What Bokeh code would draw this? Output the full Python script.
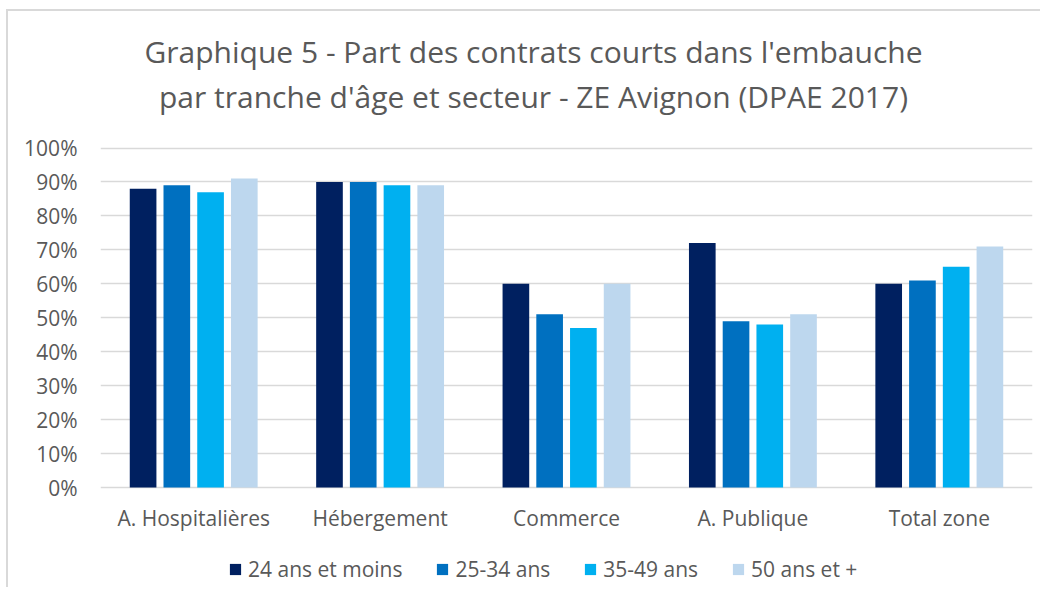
from bokeh.plotting import figure
from bokeh.models import (ColumnDataSource, FactorRange, Range1d, Legend, LegendItem,
                          PrintfTickFormatter, Label, FixedTicker)
from bokeh.core.properties import value
from bokeh.transform import dodge
from bokeh.embed import file_html
from bokeh.resources import INLINE

categories = ["A. Hospitalières", "Hébergement", "Commerce", "A. Publique", "Total zone"]
series_names = ["24 ans et moins", "25-34 ans", "35-49 ans", "50 ans et +"]
s_24_moins = [88, 90, 60, 72, 60]
s_25_34 = [89, 90, 51, 49, 61]
s_35_49 = [87, 89, 47, 48, 65]
s_50_plus = [91, 89, 60, 51, 71]
y_ticks = [0, 10, 20, 30, 40, 50, 60, 70, 80, 90, 100]
title_lines = ["Graphique 5 - Part des contrats courts dans l'embauche",
               "par tranche d'âge et secteur - ZE Avignon (DPAE 2017)"]

colors = ["#002060", "#0070C0", "#00B0F0", "#BDD7EE"]
FONT = "Open Sans"
TXT = "#595959"

H = 587
TOP_PX, BOT_PX = 147.5, 487.0          # pixel rows of 100% and 0%
PPU = (BOT_PX - TOP_PX) / 100.0         # pixels per percent
y_max = 100 + TOP_PX / PPU
y_min = -(H - BOT_PX) / PPU

source = ColumnDataSource(dict(cat=categories, s0=s_24_moins, s1=s_25_34, s2=s_35_49, s3=s_50_plus))

p = figure(width=1040, height=H, output_backend="svg", toolbar_location=None,
           x_range=FactorRange(*categories, range_padding=0), y_range=Range1d(y_min, y_max),
           min_border_left=100, min_border_right=8, min_border_top=0, min_border_bottom=0)
p.title.visible = False
p.outline_line_color = None
p.border_fill_color = None
p.background_fill_color = None
p.styles = {"background": "linear-gradient(#D9D9D9,#D9D9D9) 6px 9px / 2px 100% no-repeat, "
                          "linear-gradient(#D9D9D9,#D9D9D9) 6px 9px / 100% 2px no-repeat, white"}

step = 0.181
bw = 0.143
renderers = []
for i, col in enumerate(["s0", "s1", "s2", "s3"]):
    r = p.vbar(x=dodge("cat", (i - 1.5) * step, range=p.x_range), top=col, width=bw,
               bottom=0, source=source, fill_color=colors[i], line_color=None)
    renderers.append(r)

# y axis
p.yaxis.ticker = FixedTicker(ticks=y_ticks)
p.yaxis.formatter = PrintfTickFormatter(format="%d%%")
ya = p.yaxis[0]
ya.axis_line_color = None
ya.major_tick_line_color = None
ya.minor_tick_line_color = None
ya.major_label_text_font = FONT
ya.major_label_text_color = TXT
ya.major_label_text_font_size = "21px"
ya.major_label_standoff = 17

# category labels under the bars
p.xaxis.visible = False
p.text(x="cat", y=-8.9, text="cat", source=source, text_align="center",
       text_baseline="alphabetic", text_font=value(FONT), text_font_size="21px",
       text_color=TXT)

p.xgrid.grid_line_color = None
p.ygrid.ticker = FixedTicker(ticks=y_ticks)
p.ygrid.grid_line_color = "#D9D9D9"
p.ygrid.grid_line_width = 1.5

# title
for txt, base in zip(title_lines, [51, 96]):
    p.add_layout(Label(x=2.5, y=100 + (TOP_PX - base) / PPU, text=txt, text_align="center",
                       text_baseline="alphabetic", x_offset=-33, text_font=FONT,
                       text_font_size="30px", text_color=TXT))

legend = Legend(items=[LegendItem(label=n, renderers=[r]) for n, r in zip(series_names, renderers)],
                orientation="horizontal", location=(128, 4),
                glyph_width=14, glyph_height=14, label_standoff=6, spacing=33,
                label_text_font=FONT, label_text_font_size="21px", label_text_color=TXT,
                padding=0, margin=0, border_line_color=None, background_fill_alpha=0)
p.add_layout(legend, "center")

open("out.html", "w").write(file_html(p, INLINE))
